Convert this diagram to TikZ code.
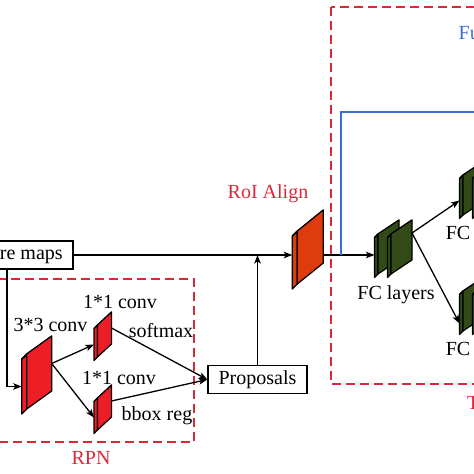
\documentclass[tikz,border=0pt]{standalone}
\usepackage{fontspec}
\setmainfont{Liberation Serif}
\usepackage{tikz}
\usepackage{xcolor}
\usetikzlibrary{arrows.meta}

\definecolor{convred}{RGB}{238,30,38}
\definecolor{roired}{RGB}{222,60,14}
\definecolor{fcgreen}{RGB}{50,74,22}
\definecolor{boxred}{RGB}{218,40,58}
\definecolor{fuseblue}{RGB}{58,112,205}

% slab: name, x, y (front bottom left), width, height, rise, depth, colour
\newcommand{\slab}[8]{%
  \filldraw[slab edge,fill=#8] (#2,#3) -- (#2,#3-#5) -- (#2-#7,#3-#5+#7) -- (#2-#7,#3+#7) -- cycle;
  \filldraw[slab edge,fill=#8] (#2,#3-#5) -- (#2+#4,#3-#5-#6) -- (#2+#4-#7,#3-#5-#6+#7) -- (#2-#7,#3-#5+#7) -- cycle;
  \filldraw[slab edge,fill=#8] (#2,#3) -- (#2,#3-#5) -- (#2+#4,#3-#5-#6) -- (#2+#4,#3-#6) -- cycle;
  \coordinate (#1-w) at (#2-#7,#3-#5/2+#7);
  \coordinate (#1-e) at (#2+#4,#3-#5/2-#6);
}

\begin{document}
\begin{tikzpicture}[x=1pt,y=-1pt,->,>={Stealth[length=8.5pt,width=6.5pt,inset=2pt]},line width=1.3pt,
    font=\fontsize{20}{24}\selectfont,
    slab edge/.style={-,draw=black,line width=1.2pt,line join=round},
    box/.style={-,draw,line width=1.6pt,inner xsep=10.5pt,inner ysep=0pt,minimum height=28pt},
    dash box/.style={-,draw=boxred,line width=1.6pt,dash pattern=on 9pt off 5pt},
    red label/.style={text=boxred}]

  \useasboundingbox (0,0) rectangle (474,474);
  \clip (0,0) rectangle (474,474);

  % the two dashed frames
  \draw[dash box] (-20,279) rectangle (194,442);
  \draw[dash box] (331,7) rectangle (495,384);

  % layers
  \slab{conv3}{26.7}{409}{25}{55}{18}{5}{convred}
  \slab{cls}{97.5}{357}{14}{32}{13}{3.5}{convred}
  \slab{reg}{97.5}{430}{14}{32}{13}{3.5}{convred}
  \slab{roi}{297.3}{284}{26}{53}{21}{5}{roired}
  \slab{fca}{378}{274}{21}{40}{14}{3.5}{fcgreen}
  \slab{fcb}{391}{274}{21}{40}{14}{3.5}{fcgreen}
  \slab{fctopa}{463}{215}{21}{40}{14}{3.5}{fcgreen}
  \slab{fctopb}{476}{215}{21}{40}{14}{3.5}{fcgreen}
  \slab{fcbota}{463}{331}{21}{40}{14}{3.5}{fcgreen}
  \slab{fcbotb}{476}{331}{21}{40}{14}{3.5}{fcgreen}

  \node[box,anchor=east] (fmaps) at (74,255) {Feature maps};
  \node[box] (prop) at (257.5,379.5) {Proposals};

  % labels
  \node (l33) at (50.5,325) {3*3 conv};
  \node (l11a) at (120,302) {1*1 conv};
  \node (lsoft) at (161,331) {softmax};
  \node (l11b) at (119,378) {1*1 conv};
  \node (lbbox) at (157,416) {bbox reg};
  \node[red label] (lrpn) at (91,458) {RPN};
  \node[red label] (lroi) at (268,194) {RoI Align};
  \node (lfc) at (396,295) {FC layers};
  \node (lfctop) at (458,233) {FC};
  \node (lfcbot) at (458,349) {FC};
  \node[text=fuseblue,anchor=west,inner sep=0pt] (lfu) at (458,33) {Fu};
  \node[red label,anchor=west,inner sep=0pt] (lt) at (466.5,403) {T};

  \coordinate (fuse) at (341,255);
  \coordinate (fuseend) at (490,112);

  % connectors
  \draw (fmaps.east) -- (fmaps.east -| roi-w);
  \draw (prop.north) -- (prop.north |- fmaps.east);
  \draw ([xshift=-67pt]fmaps.south east) |- (conv3-w);
  \path (conv3-e) edge (cls-w)
        (conv3-e) edge (reg-w)
        (cls-e) edge (prop.west)
        (reg-e) edge (prop.west);
  \draw (roi-e |- fmaps.east) -- (fca-w |- fmaps.east);
  \draw[-,draw=fuseblue] (fuse) |- (fuseend);
  \path ([yshift=7pt]fcb-e) edge ([yshift=-2pt]fctopa-w)
        ([yshift=7pt]fcb-e) edge ([yshift=-9pt]fcbota-w);
\end{tikzpicture}
\end{document}
